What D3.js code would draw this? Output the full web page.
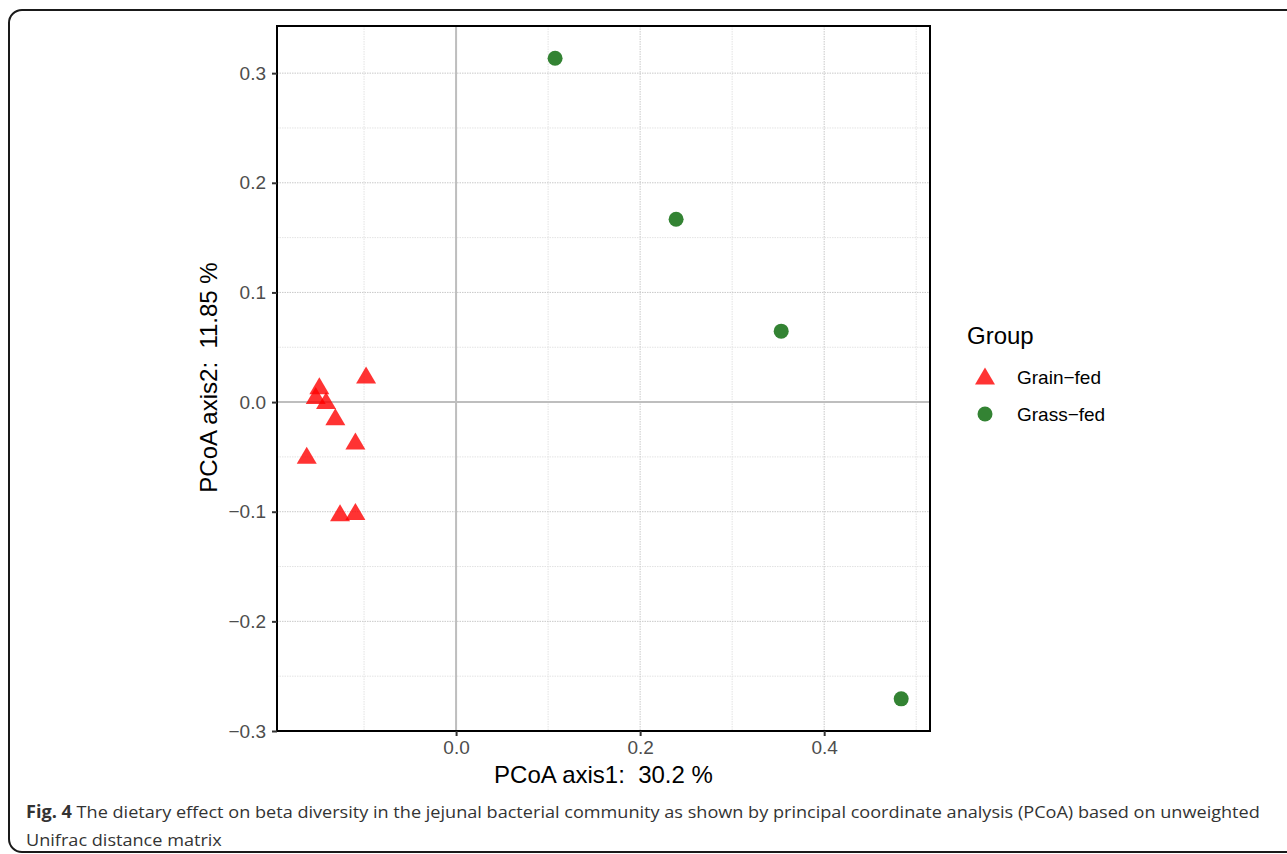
<!DOCTYPE html>
<html>
<head>
<meta charset="utf-8">
<script src="https://cdn.jsdelivr.net/npm/d3@7"></script>
<style>
  html, body { margin: 0; padding: 0; background: #fff; }
  svg { display: block; }
  text { white-space: pre; }
</style>
</head>
<body>
<svg id="chart" width="1287" height="854"></svg>
<script>
// PCoA coordinates per sample (axis1, axis2)
const grainX = [-0.0978, -0.1486, -0.1525, -0.1413, -0.1312, -0.1094, -0.1623, -0.1261, -0.1094];
const grainY = [0.0246, 0.0149, 0.0061, 0.0015, -0.0134, -0.0354, -0.0486, -0.1009, -0.0997];
const grassX = [0.1076, 0.2391, 0.3533, 0.4837];
const grassY = [0.3136, 0.1668, 0.0647, -0.2707];

const groups = ["Grain\u2212fed", "Grass\u2212fed"];
const xTicks = [0.0, 0.2, 0.4];
const yTicks = [-0.3, -0.2, -0.1, 0.0, 0.1, 0.2, 0.3];
const xMinor = [-0.1, 0.1, 0.3, 0.5];
const yMinor = [-0.25, -0.15, -0.05, 0.05, 0.15, 0.25];

const xTitle = "PCoA axis1:  30.2 %";
const yTitle = "PCoA axis2:  11.85 %";

const svg = d3.select("#chart");

// figure frame with rounded corners
svg.append("rect")
  .attr("x", 9).attr("y", 10)
  .attr("width", 1320).attr("height", 842)
  .attr("rx", 13).attr("ry", 13)
  .attr("fill", "none")
  .attr("stroke", "#1a1a1a")
  .attr("stroke-width", 2);

const panel = { left: 277, right: 930, top: 26, bottom: 731 };

const x = d3.scaleLinear().domain([-0.1946, 0.515]).range([panel.left, panel.right]);
const y = d3.scaleLinear().domain([-0.3, 0.343]).range([panel.bottom, panel.top]);

const g = svg.append("g");

// minor grid
g.selectAll(".xminor").data(xMinor).enter().append("line")
  .attr("x1", d => x(d)).attr("x2", d => x(d))
  .attr("y1", panel.top).attr("y2", panel.bottom)
  .attr("stroke", "#e3e3e3").attr("stroke-width", 1).attr("stroke-dasharray", "1.5,1");
g.selectAll(".yminor").data(yMinor).enter().append("line")
  .attr("y1", d => y(d)).attr("y2", d => y(d))
  .attr("x1", panel.left).attr("x2", panel.right)
  .attr("stroke", "#e3e3e3").attr("stroke-width", 1).attr("stroke-dasharray", "1.5,1");

// major grid
g.selectAll(".xmajor").data(xTicks).enter().append("line")
  .attr("x1", d => x(d)).attr("x2", d => x(d))
  .attr("y1", panel.top).attr("y2", panel.bottom)
  .attr("stroke", "#c9c9c9").attr("stroke-width", 1).attr("stroke-dasharray", "1.5,1");
g.selectAll(".ymajor").data(yTicks).enter().append("line")
  .attr("y1", d => y(d)).attr("y2", d => y(d))
  .attr("x1", panel.left).attr("x2", panel.right)
  .attr("stroke", "#c9c9c9").attr("stroke-width", 1).attr("stroke-dasharray", "1.5,1");

// zero reference lines
g.append("line")
  .attr("x1", x(0)).attr("x2", x(0)).attr("y1", panel.top).attr("y2", panel.bottom)
  .attr("stroke", "#bebebe").attr("stroke-width", 2);
g.append("line")
  .attr("y1", y(0)).attr("y2", y(0)).attr("x1", panel.left).attr("x2", panel.right)
  .attr("stroke", "#bebebe").attr("stroke-width", 2);

// symbols
const triW = 20, triH = 17;
function triPath(cx, cy, w, h) {
  return `M${cx},${cy - h / 2}L${cx + w / 2},${cy + h / 2}L${cx - w / 2},${cy + h / 2}Z`;
}

const grain = grainX.map((v, i) => ({ x: v, y: grainY[i] }));
const grass = grassX.map((v, i) => ({ x: v, y: grassY[i] }));

g.selectAll(".grain").data(grain).enter().append("path")
  .attr("d", d => triPath(x(d.x), y(d.y), triW, triH))
  .attr("fill", "#ff0000").attr("fill-opacity", 0.8);

g.selectAll(".grass").data(grass).enter().append("circle")
  .attr("cx", d => x(d.x)).attr("cy", d => y(d.y)).attr("r", 7.5)
  .attr("fill", "#006400").attr("fill-opacity", 0.8);

// panel border
g.append("rect")
  .attr("x", panel.left).attr("y", panel.top)
  .attr("width", panel.right - panel.left).attr("height", panel.bottom - panel.top)
  .attr("fill", "none").attr("stroke", "#000").attr("stroke-width", 2);

// axes
const fontAxis = "'Liberation Sans', Arial, Helvetica, sans-serif";
const xAxis = d3.axisBottom(x).tickValues(xTicks).tickFormat(d3.format(".1f")).tickSize(5).tickPadding(5);
const yAxis = d3.axisLeft(y).tickValues(yTicks).tickFormat(d => d3.format(".1f")(d).replace("-", "\u2212")).tickSize(5).tickPadding(6);

const gx = svg.append("g").attr("transform", `translate(0,${panel.bottom})`).call(xAxis);
const gy = svg.append("g").attr("transform", `translate(${panel.left},0)`).call(yAxis);
[gx, gy].forEach(a => {
  a.select(".domain").remove();
  a.selectAll(".tick line").attr("stroke", "#333").attr("stroke-width", 2);
  a.selectAll(".tick text").attr("fill", "#4d4d4d")
    .style("font-family", fontAxis).style("font-size", "19px");
});

// axis titles
svg.append("text")
  .attr("x", (panel.left + panel.right) / 2).attr("y", 783)
  .attr("text-anchor", "middle")
  .style("font-family", fontAxis).style("font-size", "24px").attr("fill", "#000")
  .text(xTitle);
svg.append("text")
  .attr("transform", `translate(217,${(panel.top + panel.bottom) / 2 - 1}) rotate(-90)`)
  .attr("text-anchor", "middle")
  .style("font-family", fontAxis).style("font-size", "24px").attr("fill", "#000")
  .text(yTitle);

// legend
const leg = svg.append("g");
leg.append("text").attr("x", 967).attr("y", 344)
  .style("font-family", fontAxis).style("font-size", "24px").attr("fill", "#000")
  .text("Group");
leg.append("path").attr("d", triPath(985, 376, triW, triH))
  .attr("fill", "#ff0000").attr("fill-opacity", 0.8);
leg.append("circle").attr("cx", 985).attr("cy", 414).attr("r", 7.5)
  .attr("fill", "#006400").attr("fill-opacity", 0.8);
groups.forEach((t, i) => {
  leg.append("text").attr("x", 1017).attr("y", 384 + i * 37)
    .style("font-family", fontAxis).style("font-size", "19px").attr("fill", "#000")
    .text(t);
});

// caption
const fontCap = "'Open Sans', 'Noto Sans', sans-serif";
function caption(yPos, parts, targetWidth) {
  const t = svg.append("text").attr("x", 0).attr("y", 0)
    .style("font-family", fontCap).style("font-size", "17px").attr("fill", "#333");
  parts.forEach(p => {
    t.append("tspan").style("font-weight", p.bold ? "700" : "400").text(p.text);
  });
  let sx = 1;
  if (targetWidth) {
    const w = t.node().getComputedTextLength();
    sx = targetWidth / w;
  }
  t.attr("transform", `translate(26,${yPos}) scale(${sx},1)`);
  return sx;
}
const sx = caption(818, [
  { text: "Fig. 4", bold: true },
  { text: " The dietary effect on beta diversity in the jejunal bacterial community as shown by principal coordinate analysis (PCoA) based on unweighted" }
], 1235);
svg.append("text")
  .style("font-family", fontCap).style("font-size", "17px").attr("fill", "#333")
  .attr("transform", `translate(26,846) scale(${sx},1)`)
  .text("Unifrac distance matrix");
</script>
</body>
</html>
